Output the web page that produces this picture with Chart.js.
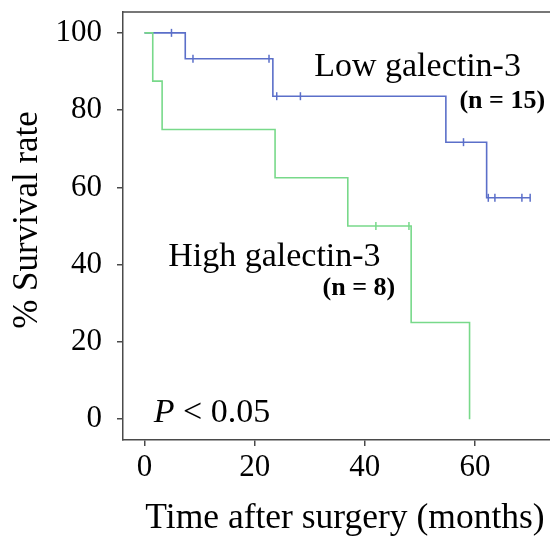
<!DOCTYPE html>
<html>
<head>
<meta charset="utf-8">
<script src="https://cdn.jsdelivr.net/npm/chart.js@4"></script>
<style>
  html, body { margin: 0; padding: 0; background: #fff; }
  #wrap { width: 550px; height: 538px; }
</style>
</head>
<body>
<div id="wrap"><canvas id="km" width="550" height="538"></canvas></div>
<script>
// Kaplan-Meier steps (months, % surviving)
const lowTimes = [0, 7.4, 23.3, 54.7, 62.1, 70];
const lowSurv = [100, 93.3, 83.6, 71.7, 57.3, 57.3];
const lowCensored = [4.9, 8.8, 22.6, 24, 28.3, 57.9, 62.4, 63.6, 68.5, 70];

const highTimes = [0, 1.5, 3.2, 23.7, 36.9, 48.4, 59];
const highSurv = [100, 87.5, 75, 62.5, 50, 25, 0];
const highCensored = [42, 48];

const xTicks = [0, 20, 40, 60];
const yTicks = [0, 20, 40, 60, 80, 100];

const blue = '#5b6fc9';
const green = '#78d98a';
const axisCol = '#4a4a4a';

function steps(times, surv) {
  return times.map((t, i) => ({ x: t, y: surv[i] }));
}
function survAt(times, surv, t) {
  let s = surv[0];
  for (let i = 0; i < times.length; i++) {
    if (times[i] <= t) s = surv[i];
  }
  return s;
}
function marks(cens, times, surv) {
  return cens.map(t => ({ x: t, y: survAt(times, surv, t) }));
}

Chart.defaults.font.family = "'Liberation Serif', 'DejaVu Serif', serif";
Chart.defaults.color = '#000';

// text labels, axis titles and top frame line
const notes = {
  id: 'notes',
  afterDraw(chart) {
    const ctx = chart.ctx, xs = chart.scales.x, ys = chart.scales.y, a = chart.chartArea;
    ctx.save();
    ctx.strokeStyle = axisCol;
    ctx.lineWidth = 1.5;
    ctx.beginPath();
    ctx.moveTo(a.left, a.top);
    ctx.lineTo(a.right, a.top);
    ctx.stroke();

    ctx.fillStyle = '#000';
    ctx.textBaseline = 'alphabetic';
    ctx.textAlign = 'left';
    ctx.font = "34px 'Liberation Serif'";
    ctx.fillText('Low galectin-3', xs.getPixelForValue(30.8), ys.getPixelForValue(88.9));
    ctx.fillText('High galectin-3', xs.getPixelForValue(4.3), ys.getPixelForValue(39.6));

    ctx.font = "bold 26px 'Liberation Serif'";
    ctx.textAlign = 'right';
    ctx.textBaseline = 'middle';
    ctx.fillText('(n = 15)', xs.getPixelForValue(72.7), ys.getPixelForValue(82.4));
    ctx.fillText('(n = 8)', xs.getPixelForValue(45.5), ys.getPixelForValue(33.9));

    // P < 0.05
    ctx.textAlign = 'left';
    ctx.textBaseline = 'alphabetic';
    let px = xs.getPixelForValue(1.7);
    const py = ys.getPixelForValue(-0.8);
    ctx.font = "italic 34px 'Liberation Serif'";
    ctx.fillText('P', px, py);
    px += ctx.measureText('P ').width;
    ctx.font = "34px 'Liberation Serif'";
    ctx.fillText('< 0.05', px, py);

    // axis titles
    ctx.font = "35.5px 'Liberation Serif'";
    ctx.textAlign = 'center';
    ctx.fillText('Time after surgery (months)', 345, 528);
    ctx.translate(37, 220);
    ctx.rotate(-Math.PI / 2);
    ctx.font = "35px 'Liberation Serif'";
    ctx.fillText('% Survival rate', 0, 0);
    ctx.restore();
  }
};

new Chart(document.getElementById('km'), {
  type: 'line',
  data: {
    datasets: [
      {
        label: 'High galectin-3',
        data: steps(highTimes, highSurv),
        stepped: true,
        borderColor: green,
        borderWidth: 1.6,
        pointRadius: 0,
        fill: false
      },
      {
        label: 'High censored',
        data: marks(highCensored, highTimes, highSurv),
        showLine: false,
        pointStyle: 'line',
        rotation: 90,
        pointRadius: 4,
        borderColor: green,
        borderWidth: 1.5
      },
      {
        label: 'Low galectin-3',
        data: steps(lowTimes, lowSurv),
        stepped: true,
        borderColor: blue,
        borderWidth: 1.6,
        pointRadius: 0,
        fill: false
      },
      {
        label: 'Low censored',
        data: marks(lowCensored, lowTimes, lowSurv),
        showLine: false,
        pointStyle: 'line',
        rotation: 90,
        pointRadius: 4,
        borderColor: blue,
        borderWidth: 1.5
      }
    ]
  },
  options: {
    responsive: false,
    animation: false,
    layout: { autoPadding: false, padding: { top: 12, right: 0, left: 0, bottom: 0 } },
    plugins: { legend: { display: false }, tooltip: { enabled: false } },
    scales: {
      x: {
        type: 'linear',
        min: -3.9,
        max: 73.6,
        afterBuildTicks: s => { s.ticks = xTicks.map(v => ({ value: v })); },
        afterFit: s => { s.height = 98; s.paddingLeft = 0; s.paddingRight = 0; },
        grid: { drawOnChartArea: false, drawTicks: true, tickLength: 6, color: axisCol, lineWidth: 1.5 },
        border: { color: axisCol, width: 1.5 },
        ticks: { font: { size: 31 }, padding: 3, maxRotation: 0, color: '#000' },
        title: { display: false }
      },
      y: {
        type: 'linear',
        min: -5.4,
        max: 105.4,
        afterBuildTicks: s => { s.ticks = yTicks.map(v => ({ value: v })); },
        afterFit: s => { s.width = 123; s.paddingTop = 0; s.paddingBottom = 0; },
        grid: { drawOnChartArea: false, drawTicks: true, tickLength: 6, color: axisCol, lineWidth: 1.5 },
        border: { color: axisCol, width: 1.5 },
        ticks: { font: { size: 31 }, padding: 15, color: '#000' },
        title: { display: false }
      }
    }
  },
  plugins: [notes]
});
</script>
</body>
</html>
